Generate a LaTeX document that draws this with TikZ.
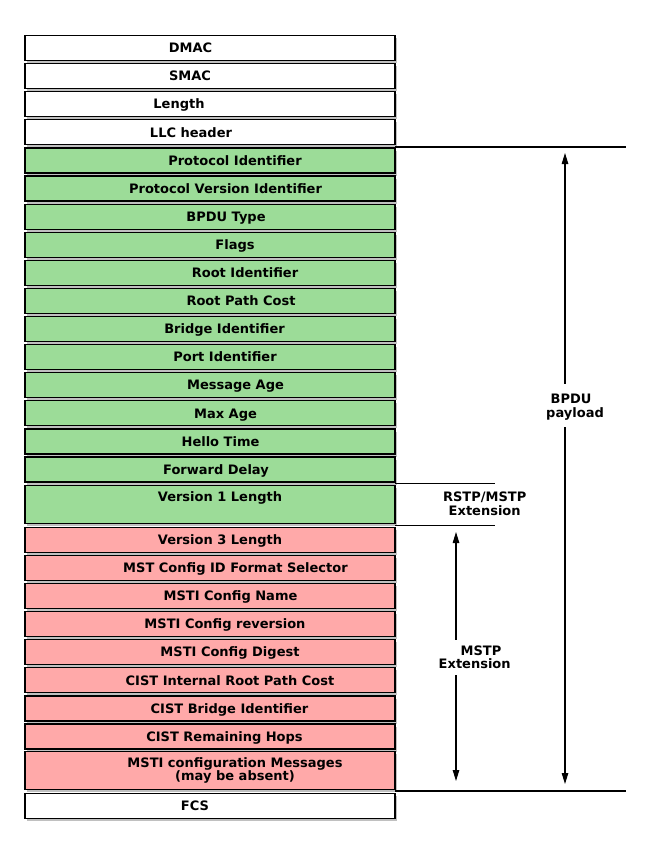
\documentclass[tikz,border=0pt]{standalone}
\usepackage{fontspec}
\setmainfont{DejaVu Sans}
\usetikzlibrary{arrows.meta,shadows}
\definecolor{gfill}{HTML}{9CDC98}
\definecolor{pfill}{HTML}{FFA9A9}
\newcommand\frow[5]{%
  \node[#3] (#1) at (210,#2+12.5) {};
  \node[lbl] (#1t) at (#4,#2+12.5) {#5};}
\begin{document}
\begin{tikzpicture}[x=1pt,y=-1pt,
  fieldbox/.style={draw=black, line width=1.2pt, minimum width=370pt, minimum height=25pt,
    inner sep=0pt, drop shadow={shadow xshift=1.5pt, shadow yshift=-2.6pt, fill=black!45, opacity=0.55}},
  wbox/.style={fieldbox, fill=white},
  gbox/.style={fieldbox, fill=gfill},
  pbox/.style={fieldbox, fill=pfill},
  tallg/.style={gbox, minimum height=37.8pt},
  tallp/.style={pbox, minimum height=37.8pt},
  lbl/.style={font=\bfseries\fontsize{13}{13}\selectfont, inner sep=0pt, align=center,
    text height=9.5pt, text depth=0pt},
  lbltwo/.style={font=\bfseries\fontsize{13}{13}\selectfont, inner sep=0pt, align=center,
    text height=22.5pt, text depth=0pt},
  conn/.style={line width=1.1pt},
  arr/.style={line width=1.1pt, {Triangle[length=11pt,width=6.5pt]}-{Triangle[length=11pt,width=6.5pt]}},
  side/.style={font=\bfseries\fontsize{13}{14}\selectfont, align=center, fill=white, inner xsep=1pt,
    text height=23.5pt, text depth=0pt}]
\useasboundingbox (0,0) rectangle (650,854);
\frow{dmac}{35.5}{wbox}{190.5}{DMAC}
\frow{smac}{63.6}{wbox}{190}{SMAC}
\frow{len}{91.7}{wbox}{179}{Length}
\frow{llc}{119.8}{wbox}{191}{LLC header}
\frow{pid}{147.9}{gbox}{235}{Protocol Identifier}
\frow{pvi}{176.0}{gbox}{225.5}{Protocol Version Identifier}
\frow{bt}{204.1}{gbox}{226}{BPDU Type}
\frow{flg}{232.2}{gbox}{235}{Flags}
\frow{rid}{260.3}{gbox}{245}{Root Identifier}
\frow{rpc}{288.4}{gbox}{241}{Root Path Cost}
\frow{bid}{316.5}{gbox}{224.5}{Bridge Identifier}
\frow{port}{344.6}{gbox}{225}{Port Identifier}
\frow{mage}{372.7}{gbox}{235.5}{Message Age}
\frow{xage}{400.8}{gbox}{225.5}{Max Age}
\frow{hello}{428.9}{gbox}{220.5}{Hello Time}
\frow{fwd}{457.0}{gbox}{216}{Forward Delay}
\node[tallg] (v1) at (210,504.4) {};
\node[lbl] (v1t) at (220,496.5) {Version 1 Length};
\frow{v3}{527.3}{pbox}{220}{Version 3 Length}
\frow{mcid}{555.4}{pbox}{235.5}{MST Config ID Format Selector}
\frow{mcn}{583.5}{pbox}{230.5}{MSTI Config Name}
\frow{mcr}{611.6}{pbox}{225}{MSTI Config reversion}
\frow{mcd}{639.7}{pbox}{230}{MSTI Config Digest}
\frow{irpc}{667.8}{pbox}{230}{CIST Internal Root Path Cost}
\frow{cbid}{695.9}{pbox}{229.5}{CIST Bridge Identifier}
\frow{crh}{724.0}{pbox}{224.5}{CIST Remaining Hops}
\node[tallp] (msti) at (210,770.4) {};
\node[lbltwo] (mstit) at (235,769.5) {MSTI configuration Messages\\(may be absent)};
\frow{fcs}{793.3}{wbox}{195}{FCS}
% reference lines
\coordinate (l1a) at (395,147);   \coordinate (l1b) at (626,147);
\coordinate (l2a) at (395,791);   \coordinate (l2b) at (626,791);
\coordinate (l3a) at (395,483.3); \coordinate (l3b) at (495,483.3);
\coordinate (l4a) at (395,525.3); \coordinate (l4b) at (495,525.3);
\draw[conn] (l1a) -- (l1b);
\draw[conn] (l2a) -- (l2b);
\draw[conn] (l3a) -- (l3b);
\draw[conn] (l4a) -- (l4b);
% arrows
\coordinate (b1) at (565,153); \coordinate (b2) at (565,784);
\coordinate (m1) at (456,532); \coordinate (m2) at (456,781);
\draw[arr] (b1) -- (b2);
\draw[arr] (m1) -- (m2);
\node[side, inner ysep=10pt] (bpdu) at (575,405.5) {BPDU\hspace*{8pt}\\payload};
\node[side, font=\bfseries\fontsize{13}{13}\selectfont, text height=22.5pt, inner ysep=6pt] (mstp) at (474.7,657.5) {\hspace*{12.6pt}MSTP\\Extension};
\node[side, fill=none] (rstp) at (484.7,504) {RSTP/MSTP\\Extension};
\end{tikzpicture}
\end{document}
